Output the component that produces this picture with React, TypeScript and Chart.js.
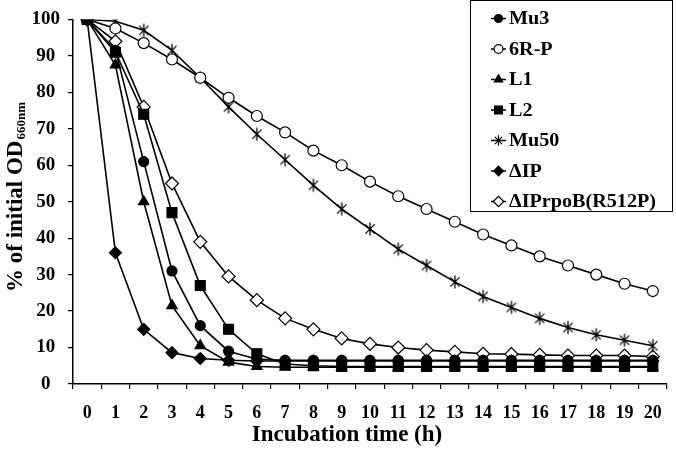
import React, { useEffect, useRef } from 'react';
import { Chart, registerables } from 'chart.js';

Chart.register(...registerables);

const hours = ['0', '1', '2', '3', '4', '5', '6', '7', '8', '9', '10', '11', '12', '13', '14', '15', '16', '17', '18', '19', '20'];

const mu3 = [100, 91.5, 61, 31, 16, 9, 6.8, 6.5, 6.5, 6.5, 6.5, 6.5, 6.5, 6.5, 6.5, 6.5, 6.5, 6.5, 6.5, 6.5, 6.5];
const r6p = [100, 97.5, 93.5, 89, 84, 78.5, 73.5, 69, 64, 60, 55.5, 51.5, 48, 44.5, 41, 38, 35, 32.5, 30, 27.5, 25.5];
const l1 = [100, 87.5, 50, 21.5, 10.5, 6, 4.8, 4.6, 4.6, 4.6, 4.6, 4.6, 4.6, 4.6, 4.6, 4.6, 4.6, 4.6, 4.6, 4.6, 4.6];
const l2 = [100, 91, 74, 47, 27, 15, 8.3, 5.5, 5, 4.8, 4.8, 4.8, 4.8, 4.8, 4.8, 4.8, 4.8, 4.8, 4.8, 4.8, 4.8];
const mu50 = [100, 99.5, 97, 91.5, 84, 76, 68.5, 61.5, 54.5, 48, 42.5, 37, 32.5, 28, 24, 21, 18, 15.5, 13.5, 12, 10.5];
const dip = [100, 36, 15, 8.6, 7, 6.5, 6.3, 6.3, 6.3, 6.3, 6.3, 6.3, 6.3, 6.3, 6.3, 6.3, 6.3, 6.3, 6.3, 6.3, 6.3];
const dipRpoB = [100, 94, 76, 55, 39, 29.5, 23, 18, 15, 12.5, 11, 10, 9.3, 8.8, 8.3, 8.2, 8, 7.8, 7.8, 7.8, 7.5];

const seriesNames = ['Mu3', '6R-P', 'L1', 'L2', 'Mu50', '\u0394IP', '\u0394IPrpoB(R512P)'];
const yTicks = [0, 10, 20, 30, 40, 50, 60, 70, 80, 90, 100];

const SERIF = '"Liberation Serif", "Times New Roman", Times, serif';

type Marker = { style: string; fill: string; r: number };
const markers: Marker[] = [
  { style: 'circle', fill: '#000', r: 5 },
  { style: 'circle', fill: '#fff', r: 5.5 },
  { style: 'triangle', fill: '#000', r: 6 },
  { style: 'rect', fill: '#000', r: 7 },
  { style: 'star', fill: '#000', r: 6.5 },
  { style: 'rectRot', fill: '#000', r: 6 },
  { style: 'rectRot', fill: '#fff', r: 6.5 },
];

function makeStar(r: number, lw: number): HTMLCanvasElement {
  const s = Math.ceil(2 * r + lw * 2);
  const c = document.createElement('canvas');
  c.width = s;
  c.height = s;
  const ctx = c.getContext('2d')!;
  ctx.strokeStyle = '#000';
  ctx.lineWidth = lw;
  const cx = s / 2;
  const cy = s / 2;
  ctx.beginPath();
  for (const a of [90, 45, 135]) {
    const rad = (a * Math.PI) / 180;
    ctx.moveTo(cx - r * Math.cos(rad), cy - r * Math.sin(rad));
    ctx.lineTo(cx + r * Math.cos(rad), cy + r * Math.sin(rad));
  }
  ctx.stroke();
  return c;
}

function drawMarker(ctx: CanvasRenderingContext2D, m: Marker, x: number, y: number, r: number) {
  ctx.save();
  ctx.fillStyle = m.fill;
  ctx.strokeStyle = '#000';
  ctx.lineWidth = 1.2;
  ctx.beginPath();
  if (m.style === 'circle') {
    ctx.arc(x, y, r, 0, Math.PI * 2);
  } else if (m.style === 'triangle') {
    for (let i = 0; i < 3; i++) {
      const a = -Math.PI / 2 + (i * 2 * Math.PI) / 3;
      const px = x + r * Math.cos(a);
      const py = y + r * Math.sin(a);
      if (i === 0) ctx.moveTo(px, py);
      else ctx.lineTo(px, py);
    }
    ctx.closePath();
  } else if (m.style === 'rect') {
    const s = r * Math.SQRT1_2;
    ctx.rect(x - s, y - s, 2 * s, 2 * s);
  } else if (m.style === 'rectRot') {
    ctx.moveTo(x - r, y);
    ctx.lineTo(x, y - r);
    ctx.lineTo(x + r, y);
    ctx.lineTo(x, y + r);
    ctx.closePath();
  } else if (m.style === 'star') {
    for (const a of [90, 45, 135]) {
      const rad = (a * Math.PI) / 180;
      ctx.moveTo(x - r * Math.cos(rad), y - r * Math.sin(rad));
      ctx.lineTo(x + r * Math.cos(rad), y + r * Math.sin(rad));
    }
    ctx.stroke();
    ctx.restore();
    return;
  }
  ctx.fill();
  ctx.stroke();
  ctx.restore();
}

const customPlugin = {
  id: 'customDecor',
  afterDraw(chart: any) {
    const ctx: CanvasRenderingContext2D = chart.ctx;
    ctx.save();
    // Legend box
    const bx = 470.5, by = 0.5, bw = 202, bh = 211;
    ctx.fillStyle = '#fff';
    ctx.fillRect(bx, by, bw, bh);
    ctx.strokeStyle = '#000';
    ctx.lineWidth = 1;
    ctx.strokeRect(bx, by, bw, bh);
    seriesNames.forEach((name, i) => {
      const y = 18.5 + i * 30.5;
      ctx.strokeStyle = '#000';
      ctx.lineWidth = 1.5;
      ctx.beginPath();
      ctx.moveTo(491, y);
      ctx.lineTo(506, y);
      ctx.stroke();
      drawMarker(ctx, markers[i], 498.5, y, markers[i].r * 0.8);
      ctx.save();
      ctx.translate(509, y + 1);
      ctx.scale(1.12, 1);
      ctx.fillStyle = '#000';
      ctx.font = `bold 18px ${SERIF}`;
      ctx.textAlign = 'left';
      ctx.textBaseline = 'middle';
      ctx.fillText(name, 0, 0);
      ctx.restore();
    });
    // X title
    ctx.fillStyle = '#000';
    ctx.font = `bold 23px ${SERIF}`;
    ctx.textAlign = 'center';
    ctx.textBaseline = 'alphabetic';
    ctx.fillText('Incubation time (h)', 347, 441);
    // Y title
    ctx.save();
    ctx.translate(22, 292);
    ctx.rotate(-Math.PI / 2);
    ctx.textAlign = 'left';
    ctx.textBaseline = 'alphabetic';
    ctx.font = `bold 23px ${SERIF}`;
    const main = '% of initial OD';
    ctx.fillText(main, 0, 0);
    const w = ctx.measureText(main).width;
    ctx.font = `bold 13px ${SERIF}`;
    ctx.fillText('660nm', w + 1, 3);
    ctx.restore();
    ctx.restore();
  },
};

export default function App() {
  const ref = useRef<HTMLCanvasElement | null>(null);
  useEffect(() => {
    if (!ref.current) return;
    const star = makeStar(6.5, 1.3);
    const all = [mu3, r6p, l1, l2, mu50, dip, dipRpoB];
    const datasets = all.map((d, i) => ({
      label: seriesNames[i],
      data: d,
      borderColor: '#000',
      borderWidth: 1.6,
      backgroundColor: markers[i].fill,
      pointStyle: markers[i].style === 'star' ? (star as any) : markers[i].style,
      pointRadius: markers[i].r,
      pointHoverRadius: markers[i].r,
      pointBackgroundColor: markers[i].fill,
      pointBorderColor: '#000',
      pointBorderWidth: 1.2,
      tension: 0,
      fill: false,
    }));
    const chart = new Chart(ref.current, {
      type: 'line',
      data: { labels: hours, datasets },
      options: {
        animation: false,
        responsive: false,
        devicePixelRatio: 1,
        layout: { padding: { top: 12, right: 3, left: 0, bottom: 0 } },
        plugins: { legend: { display: false }, tooltip: { enabled: false }, title: { display: false } },
        scales: {
          x: {
            type: 'category',
            offset: true,
            grid: { offset: true, drawOnChartArea: false, drawTicks: true, tickLength: 5, color: '#000', lineWidth: 1.2 },
            border: { display: true, color: '#000', width: 1.5 },
            ticks: { color: '#000', font: { family: SERIF, size: 18, weight: 'bold' }, padding: 14, maxRotation: 0, autoSkip: false },
            afterFit: (s: any) => { s.height = 79; },
          },
          y: {
            min: 0,
            max: 100,
            afterBuildTicks: (s: any) => { s.ticks = yTicks.map((v) => ({ value: v })); },
            grid: { drawOnChartArea: false, drawTicks: true, tickLength: 5, color: '#000', lineWidth: 1.2 },
            border: { display: true, color: '#000', width: 1.5 },
            ticks: { color: '#000', font: { family: SERIF, size: 19, weight: 'bold' }, padding: 8, crossAlign: 'center' },
            afterFit: (s: any) => { s.width = 73; },
          },
        },
      } as any,
      plugins: [customPlugin],
    });
    return () => chart.destroy();
  }, []);
  return (
    <div style={{ position: 'absolute', left: 0, top: 0, width: 676, height: 463, background: '#fff' }}>
      <canvas ref={ref} width={676} height={463} style={{ width: 676, height: 463 }} />
    </div>
  );
}
